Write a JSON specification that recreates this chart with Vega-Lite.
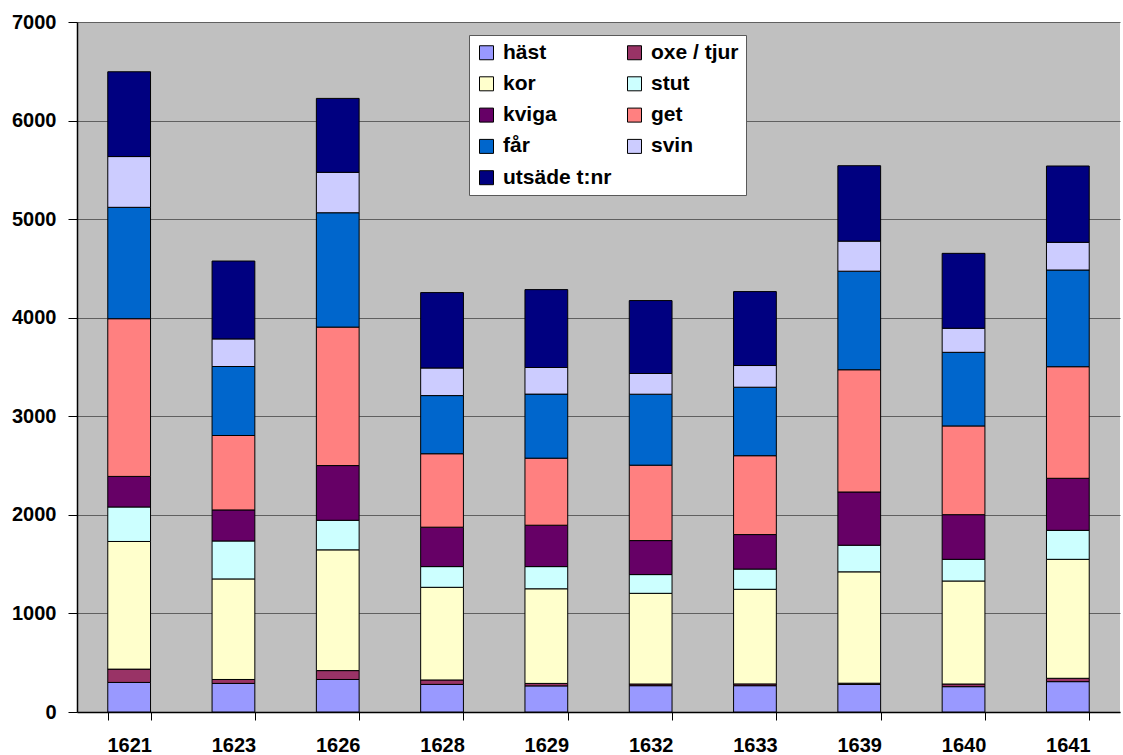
{
  "$schema": "https://vega.github.io/schema/vega-lite/v6.json",
  "width": 1043,
  "height": 690,
  "autosize": "none",
  "padding": {"left": 77, "top": 22, "right": 3, "bottom": 43},
  "background": "white",
  "config": {
    "view": {"fill": "#C0C0C0", "stroke": null},
    "font": "Liberation Sans",
    "axis": {
      "labelFont": "Liberation Sans",
      "labelFontWeight": "bold",
      "labelFontSize": 20,
      "labelColor": "black",
      "domainColor": "black",
      "tickColor": "black",
      "title": null
    }
  },
  "data": {
    "values": [
      {"year": "1621", "animal": "häst", "n": 300},
      {"year": "1621", "animal": "oxe / tjur", "n": 135},
      {"year": "1621", "animal": "kor", "n": 1295},
      {"year": "1621", "animal": "stut", "n": 350},
      {"year": "1621", "animal": "kviga", "n": 310},
      {"year": "1621", "animal": "get", "n": 1600},
      {"year": "1621", "animal": "får", "n": 1130},
      {"year": "1621", "animal": "svin", "n": 515},
      {"year": "1621", "animal": "utsäde t:nr", "n": 860},
      {"year": "1623", "animal": "häst", "n": 290},
      {"year": "1623", "animal": "oxe / tjur", "n": 40},
      {"year": "1623", "animal": "kor", "n": 1020},
      {"year": "1623", "animal": "stut", "n": 385},
      {"year": "1623", "animal": "kviga", "n": 315},
      {"year": "1623", "animal": "get", "n": 755},
      {"year": "1623", "animal": "får", "n": 700},
      {"year": "1623", "animal": "svin", "n": 280},
      {"year": "1623", "animal": "utsäde t:nr", "n": 790},
      {"year": "1626", "animal": "häst", "n": 330},
      {"year": "1626", "animal": "oxe / tjur", "n": 90},
      {"year": "1626", "animal": "kor", "n": 1225},
      {"year": "1626", "animal": "stut", "n": 300},
      {"year": "1626", "animal": "kviga", "n": 555},
      {"year": "1626", "animal": "get", "n": 1405},
      {"year": "1626", "animal": "får", "n": 1160},
      {"year": "1626", "animal": "svin", "n": 410},
      {"year": "1626", "animal": "utsäde t:nr", "n": 750},
      {"year": "1628", "animal": "häst", "n": 280},
      {"year": "1628", "animal": "oxe / tjur", "n": 45},
      {"year": "1628", "animal": "kor", "n": 940},
      {"year": "1628", "animal": "stut", "n": 210},
      {"year": "1628", "animal": "kviga", "n": 400},
      {"year": "1628", "animal": "get", "n": 745},
      {"year": "1628", "animal": "får", "n": 590},
      {"year": "1628", "animal": "svin", "n": 280},
      {"year": "1628", "animal": "utsäde t:nr", "n": 765},
      {"year": "1629", "animal": "häst", "n": 265},
      {"year": "1629", "animal": "oxe / tjur", "n": 25},
      {"year": "1629", "animal": "kor", "n": 960},
      {"year": "1629", "animal": "stut", "n": 225},
      {"year": "1629", "animal": "kviga", "n": 420},
      {"year": "1629", "animal": "get", "n": 680},
      {"year": "1629", "animal": "får", "n": 650},
      {"year": "1629", "animal": "svin", "n": 270},
      {"year": "1629", "animal": "utsäde t:nr", "n": 790},
      {"year": "1632", "animal": "häst", "n": 267},
      {"year": "1632", "animal": "oxe / tjur", "n": 17},
      {"year": "1632", "animal": "kor", "n": 920},
      {"year": "1632", "animal": "stut", "n": 190},
      {"year": "1632", "animal": "kviga", "n": 345},
      {"year": "1632", "animal": "get", "n": 765},
      {"year": "1632", "animal": "får", "n": 720},
      {"year": "1632", "animal": "svin", "n": 210},
      {"year": "1632", "animal": "utsäde t:nr", "n": 740},
      {"year": "1633", "animal": "häst", "n": 267},
      {"year": "1633", "animal": "oxe / tjur", "n": 18},
      {"year": "1633", "animal": "kor", "n": 960},
      {"year": "1633", "animal": "stut", "n": 205},
      {"year": "1633", "animal": "kviga", "n": 350},
      {"year": "1633", "animal": "get", "n": 800},
      {"year": "1633", "animal": "får", "n": 695},
      {"year": "1633", "animal": "svin", "n": 220},
      {"year": "1633", "animal": "utsäde t:nr", "n": 750},
      {"year": "1639", "animal": "häst", "n": 280},
      {"year": "1639", "animal": "oxe / tjur", "n": 12},
      {"year": "1639", "animal": "kor", "n": 1130},
      {"year": "1639", "animal": "stut", "n": 270},
      {"year": "1639", "animal": "kviga", "n": 540},
      {"year": "1639", "animal": "get", "n": 1240},
      {"year": "1639", "animal": "får", "n": 1000},
      {"year": "1639", "animal": "svin", "n": 305},
      {"year": "1639", "animal": "utsäde t:nr", "n": 765},
      {"year": "1640", "animal": "häst", "n": 257},
      {"year": "1640", "animal": "oxe / tjur", "n": 27},
      {"year": "1640", "animal": "kor", "n": 1045},
      {"year": "1640", "animal": "stut", "n": 220},
      {"year": "1640", "animal": "kviga", "n": 453},
      {"year": "1640", "animal": "get", "n": 900},
      {"year": "1640", "animal": "får", "n": 747},
      {"year": "1640", "animal": "svin", "n": 244},
      {"year": "1640", "animal": "utsäde t:nr", "n": 760},
      {"year": "1641", "animal": "häst", "n": 308},
      {"year": "1641", "animal": "oxe / tjur", "n": 34},
      {"year": "1641", "animal": "kor", "n": 1207},
      {"year": "1641", "animal": "stut", "n": 294},
      {"year": "1641", "animal": "kviga", "n": 528},
      {"year": "1641", "animal": "get", "n": 1132},
      {"year": "1641", "animal": "får", "n": 981},
      {"year": "1641", "animal": "svin", "n": 281},
      {"year": "1641", "animal": "utsäde t:nr", "n": 774}
    ]
  },
  "transform": [
    {"calculate": "indexof(['häst', 'oxe / tjur', 'kor', 'stut', 'kviga', 'get', 'får', 'svin', 'utsäde t:nr'], datum.animal)", "as": "stackRank"}
  ],
  "mark": {"type": "bar", "stroke": "black", "strokeWidth": 1},
  "encoding": {
    "x": {
      "field": "year",
      "type": "ordinal",
      "scale": {"paddingInner": 0.59, "paddingOuter": 0.295},
      "axis": {
        "labelAngle": 0,
        "tickBand": "extent",
        "tickSize": 8,
        "labelPadding": 15,
        "domainWidth": 1.5,
        "grid": false
      }
    },
    "y": {
      "field": "n",
      "type": "quantitative",
      "stack": "zero",
      "scale": {"domain": [0, 7000], "nice": false},
      "axis": {
        "values": [0, 1000, 2000, 3000, 4000, 5000, 6000, 7000],
        "format": "d",
        "tickSize": 9,
        "labelPadding": 12,
        "domainWidth": 1.5,
        "grid": true,
        "gridColor": "#606060",
        "gridWidth": 1
      }
    },
    "order": {"field": "stackRank", "type": "quantitative", "sort": "ascending"},
    "color": {
      "field": "animal",
      "type": "nominal",
      "scale": {
        "domain": ["häst", "kor", "kviga", "får", "utsäde t:nr", "oxe / tjur", "stut", "get", "svin"],
        "range": ["#9999FF", "#FFFFCC", "#660066", "#0066CC", "#000080", "#993366", "#CCFFFF", "#FF8080", "#CCCCFF"]
      },
      "legend": {
        "title": null,
        "orient": "none",
        "legendX": 392,
        "legendY": 13,
        "columns": 2,
        "columnPadding": 12,
        "rowPadding": 9.3,
        "padding": 7,
        "fillColor": "white",
        "strokeColor": "#595959",
        "symbolType": "square",
        "symbolSize": 196,
        "symbolStrokeColor": "black",
        "symbolStrokeWidth": 1,
        "symbolOpacity": 1,
        "labelFont": "Liberation Sans",
        "labelFontWeight": "bold",
        "labelFontSize": 21,
        "labelColor": "black",
        "labelOffset": 6
      }
    }
  }
}
